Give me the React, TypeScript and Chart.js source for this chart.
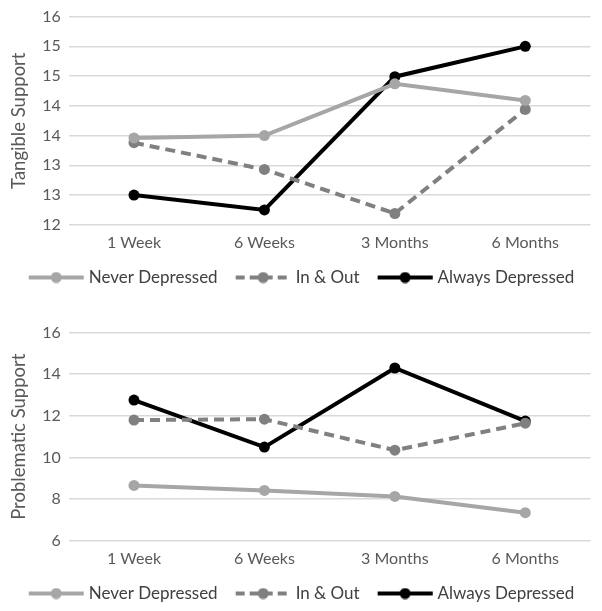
import React, { useEffect, useRef } from "react";
import { Chart, registerables } from "chart.js";

Chart.register(...registerables);

const categories = ["1 Week", "6 Weeks", "3 Months", "6 Months"];
const seriesNames = ["Never Depressed", "In & Out", "Always Depressed"];
const seriesColors = ["#a6a6a6", "#808080", "#000000"];

const tangibleNever = [13.46, 13.5, 14.37, 14.09];
const tangibleInOut = [13.38, 12.93, 12.19, 13.94];
const tangibleAlways = [12.5, 12.25, 14.49, 15.0];

const problematicNever = [8.66, 8.42, 8.13, 7.35];
const problematicInOut = [11.8, 11.84, 10.35, 11.65];
const problematicAlways = [12.76, 10.5, 14.3, 11.75];

const FONT = "Lato, 'Open Sans', sans-serif";

// legend sample: box width 52.5, image 60 wide, line drawn offset inside it
const BOX_W = 52.5;
const IMG_W = 60;
const LINE_START = 4.75;
const LINE_LEN = 55;

function legendImage(color: string, dashed: boolean) {
  const c = document.createElement("canvas");
  c.width = IMG_W;
  c.height = 12;
  const ctx = c.getContext("2d")!;
  ctx.strokeStyle = color;
  ctx.lineWidth = 4;
  if (dashed) ctx.setLineDash([9, 5]);
  ctx.beginPath();
  ctx.moveTo(LINE_START, 6);
  ctx.lineTo(LINE_START + LINE_LEN, 6);
  ctx.stroke();
  ctx.setLineDash([]);
  ctx.fillStyle = color;
  ctx.beginPath();
  ctx.arc(LINE_START + LINE_LEN / 2, 6, 5.5, 0, Math.PI * 2);
  ctx.fill();
  return c;
}

type PanelProps = {
  values: number[][];
  yTitle: string;
  min: number;
  max: number;
  step: number;
  marginTop: number;
};

function Panel({ values, yTitle, min, max, step, marginTop }: PanelProps) {
  const ref = useRef<HTMLCanvasElement>(null);
  useEffect(() => {
    if (!ref.current) return;
    const images = seriesColors.map((c, i) => legendImage(c, i === 1));
    const chart = new Chart(ref.current, {
      type: "line",
      data: {
        labels: categories,
        datasets: values.map((v, i) => ({
          label: seriesNames[i],
          data: v,
          borderColor: seriesColors[i],
          backgroundColor: seriesColors[i],
          pointBackgroundColor: seriesColors[i],
          pointBorderColor: seriesColors[i],
          pointBorderWidth: 0,
          pointRadius: 5.5,
          borderWidth: 4,
          borderDash: i === 1 ? [10, 6] : [],
          tension: 0,
        })),
      },
      options: {
        animation: false,
        responsive: true,
        maintainAspectRatio: false,
        layout: { padding: { top: 0, right: 2, left: 0, bottom: 0 } },
        plugins: {
          tooltip: { enabled: false },
          legend: {
            position: "bottom",
            labels: {
              usePointStyle: true,
              pointStyleWidth: BOX_W,
              padding: 17,
              color: "#404040",
              font: { family: FONT, size: 17 },
              generateLabels: (ch: any) =>
                Chart.defaults.plugins.legend.labels
                  .generateLabels(ch)
                  .map((l: any, i: number) => ({ ...l, pointStyle: images[i], lineDash: [] })),
            },
          },
        },
        scales: {
          x: {
            offset: true,
            grid: { display: false },
            border: { display: false },
            ticks: { color: "#595959", font: { family: FONT, size: 16 }, padding: 0 },
          },
          y: {
            min,
            max,
            ticks: {
              stepSize: step,
              color: "#595959",
              font: { family: FONT, size: 16 },
              padding: 8,
              callback: (v: any) => String(Math.round(Number(v))),
            },
            grid: { color: "#d9d9d9", lineWidth: 1.5, drawTicks: false },
            border: { display: false },
            title: {
              display: true,
              text: yTitle,
              color: "#595959",
              font: { family: FONT, size: 18.5 },
              padding: { top: 0, bottom: 4 },
            },
          },
        },
      },
    });
    return () => chart.destroy();
  }, [values, yTitle, min, max, step]);
  return (
    <div style={{ position: "relative", height: 297, marginTop }}>
      <canvas ref={ref} />
    </div>
  );
}

const tangibleValues = [tangibleNever, tangibleInOut, tangibleAlways];
const problematicValues = [problematicNever, problematicInOut, problematicAlways];

export default function App() {
  return (
    <div style={{ width: 588, background: "#fff" }}>
      <Panel values={tangibleValues} yTitle="Tangible Support" min={12} max={15.5} step={0.5} marginTop={-9} />
      <Panel values={problematicValues} yTitle="Problematic Support" min={6} max={16} step={2} marginTop={19} />
    </div>
  );
}
